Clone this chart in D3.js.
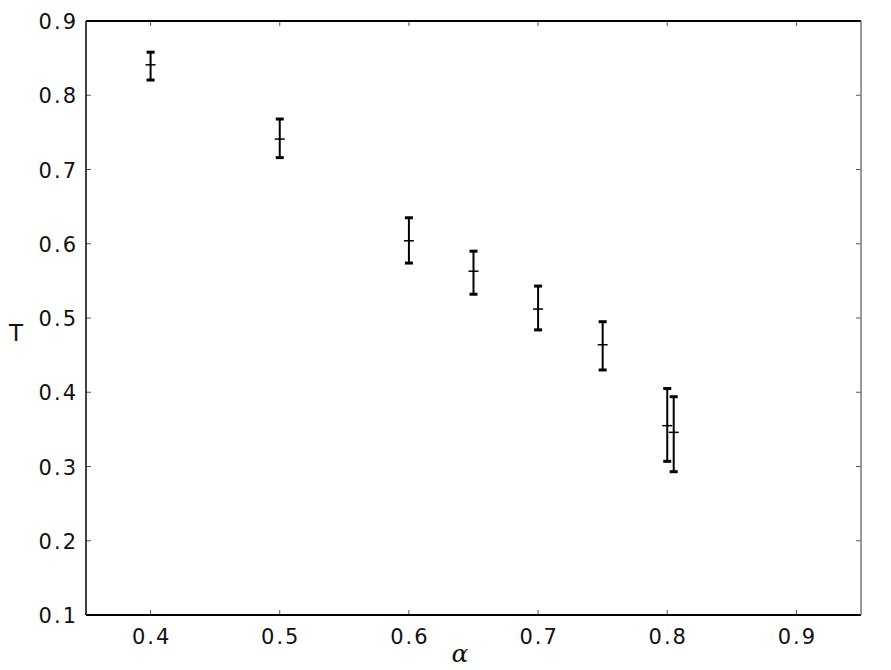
<!DOCTYPE html>
<html>
<head>
<meta charset="utf-8">
<script src="https://cdn.jsdelivr.net/npm/d3@7"></script>
<style>
  body { margin: 0; background: #fff; }
  svg { display: block; }
</style>
</head>
<body>
<svg id="chart" width="891" height="670"></svg>
<script>
// alpha values, mean T, lower and upper error bounds
const alphas = [0.4, 0.5, 0.6, 0.65, 0.7, 0.75, 0.8, 0.805];
const means  = [0.841, 0.741, 0.604, 0.563, 0.512, 0.464, 0.355, 0.346];
const lows   = [0.8205, 0.716, 0.574, 0.532, 0.484, 0.430, 0.307, 0.293];
const highs  = [0.858, 0.768, 0.635, 0.590, 0.543, 0.495, 0.405, 0.394];
const xTicks = [0.4, 0.5, 0.6, 0.7, 0.8, 0.9];
const yTicks = [0.1, 0.2, 0.3, 0.4, 0.5, 0.6, 0.7, 0.8, 0.9];

const margin = { left: 86, right: 861, top: 21, bottom: 615 };
const svg = d3.select('#chart');

const x = d3.scaleLinear().domain([0.35, 0.95]).range([margin.left, margin.right]);
const y = d3.scaleLinear().domain([0.1, 0.9]).range([margin.bottom, margin.top]);

const font = 'DejaVu Sans, sans-serif';

// ticks (inside, on all four sides)
const g = svg.append('g');
xTicks.forEach((t) => {
  g.append('line').attr('x1', x(t)).attr('x2', x(t)).attr('y1', margin.bottom).attr('y2', margin.bottom - 5)
    .attr('stroke', '#555').attr('stroke-width', 1);
  g.append('line').attr('x1', x(t)).attr('x2', x(t)).attr('y1', margin.top).attr('y2', margin.top + 5)
    .attr('stroke', '#555').attr('stroke-width', 1);
  g.append('text').attr('x', x(t) + 1).attr('y', margin.bottom + 29)
    .attr('text-anchor', 'middle').attr('font-family', font).attr('font-size', 21)
    .attr('letter-spacing', 2).attr('fill', '#111').text(d3.format('.1f')(t));
});
yTicks.forEach((t) => {
  g.append('line').attr('x1', margin.left).attr('x2', margin.left + 5).attr('y1', y(t)).attr('y2', y(t))
    .attr('stroke', '#555').attr('stroke-width', 1);
  g.append('line').attr('x1', margin.right).attr('x2', margin.right - 5).attr('y1', y(t)).attr('y2', y(t))
    .attr('stroke', '#555').attr('stroke-width', 1);
  g.append('text').attr('x', margin.left - 8).attr('y', y(t) + 8)
    .attr('text-anchor', 'end').attr('font-family', font).attr('font-size', 21)
    .attr('letter-spacing', 2).attr('fill', '#111').text(d3.format('.1f')(t));
});

// frame
svg.append('line').attr('x1', margin.left).attr('x2', margin.right).attr('y1', margin.top).attr('y2', margin.top)
  .attr('stroke', '#000').attr('stroke-width', 2);
svg.append('line').attr('x1', margin.left).attr('x2', margin.right).attr('y1', margin.bottom).attr('y2', margin.bottom)
  .attr('stroke', '#000').attr('stroke-width', 2);
svg.append('line').attr('x1', margin.left).attr('x2', margin.left).attr('y1', margin.top).attr('y2', margin.bottom)
  .attr('stroke', '#000').attr('stroke-width', 1.5);
svg.append('line').attr('x1', margin.right).attr('x2', margin.right).attr('y1', margin.top).attr('y2', margin.bottom)
  .attr('stroke', '#777').attr('stroke-width', 1.5);

// error bars
const bars = svg.append('g');
alphas.forEach((a, i) => {
  const cx = x(a);
  bars.append('line').attr('x1', cx).attr('x2', cx).attr('y1', y(lows[i])).attr('y2', y(highs[i]))
    .attr('stroke', '#000').attr('stroke-width', 2);
  [lows[i], highs[i]].forEach((v) => {
    bars.append('line').attr('x1', cx - 4).attr('x2', cx + 4).attr('y1', y(v)).attr('y2', y(v))
      .attr('stroke', '#000').attr('stroke-width', 3);
  });
  bars.append('line').attr('x1', cx - 5).attr('x2', cx + 5).attr('y1', y(means[i])).attr('y2', y(means[i]))
    .attr('stroke', '#000').attr('stroke-width', 1.5);
});

// axis labels
svg.append('text').attr('x', 16).attr('y', 341).attr('text-anchor', 'middle')
  .attr('font-family', font).attr('font-size', 23).attr('fill', '#111').text('T');
svg.append('text').attr('x', 460).attr('y', 662).attr('text-anchor', 'middle')
  .attr('font-family', 'DejaVu Serif, serif').attr('font-style', 'italic').attr('font-size', 25)
  .attr('fill', '#111').text('α');
</script>
</body>
</html>
